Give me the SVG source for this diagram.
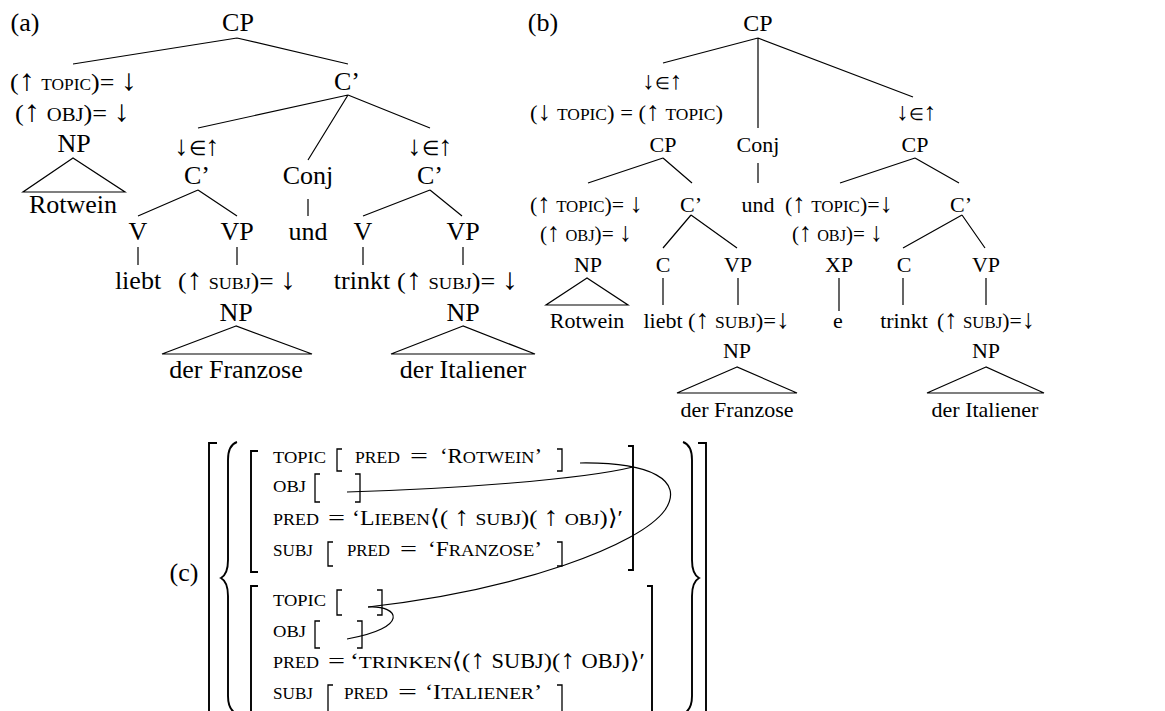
<svg xmlns="http://www.w3.org/2000/svg" width="1165" height="711" viewBox="0 0 1165 711">
<style>
text{font-family:"Liberation Serif","Times New Roman",serif;fill:#000}
.a{font-size:26px;text-anchor:middle}
.b{font-size:22px;text-anchor:middle}
.s{font-size:24px}
.bs{font-size:22px}
.m{font-size:22px}
.sc{font-size:17.5px}
.ar{font-size:30px}
.br{font-size:27px}
.ea{font-size:28px;text-anchor:middle}
.eb{font-size:25px;text-anchor:middle}
.el{font-size:20px}
.es{font-size:17px}
.e{stroke:#000;stroke-width:1.2;fill:none}
.k{stroke:#000;stroke-width:1.3;fill:none}
.K{stroke:#000;stroke-width:1.9;fill:none}
</style>
<rect width="1165" height="711" fill="#fff"/>

<g id="panel-a">
  <text class="a" x="25" y="31">(a)</text>
  <g id="a-CP"><text class="a" x="238" y="31">CP</text></g>
  <g id="a-spec"><text class="s" x="10" y="90" textLength="127" lengthAdjust="spacingAndGlyphs">(<tspan class="ar">↑</tspan> <tspan style="font-size:16px">TOPIC</tspan>)= <tspan class="ar">↓</tspan></text>
    <text class="s" x="15" y="121" textLength="115" lengthAdjust="spacingAndGlyphs">(<tspan class="ar">↑</tspan> <tspan style="font-size:19px">OBJ</tspan>)= <tspan class="ar">↓</tspan></text>
    <text class="a" x="74" y="152">NP</text></g>
  <g id="a-Rotwein"><text class="a" x="73" y="213">Rotwein</text></g>
  <g id="a-Cbar"><text class="a" x="347" y="90">C’</text></g>
  <g id="a-C1"><text class="ea" x="197" y="155">↓<tspan class="el">∈</tspan>↑</text><text class="a" x="197" y="184">C’</text></g>
  <g id="a-Conj"><text class="a" x="308" y="184">Conj</text></g>
  <g id="a-C2"><text class="ea" x="430" y="155">↓<tspan class="el">∈</tspan>↑</text><text class="a" x="430" y="184">C’</text></g>
  <g id="a-V1"><text class="a" x="138" y="240">V</text></g>
  <g id="a-VP1"><text class="a" x="237" y="240">VP</text></g>
  <g id="a-und"><text class="a" x="308" y="240">und</text></g>
  <g id="a-V2"><text class="a" x="363" y="240">V</text></g>
  <g id="a-VP2"><text class="a" x="463" y="240">VP</text></g>
  <g id="a-liebt"><text class="a" x="138" y="289">liebt</text></g>
  <g id="a-NP1"><text class="s" x="178" y="289" textLength="118" lengthAdjust="spacingAndGlyphs">(<tspan class="ar">↑</tspan> <tspan style="font-size:17px">SUBJ</tspan>)= <tspan class="ar">↓</tspan></text><text class="a" x="236" y="321">NP</text></g>
  <g id="a-Franzose"><text class="a" x="236" y="378">der Franzose</text></g>
  <g id="a-trinkt"><text class="a" x="362" y="289">trinkt</text></g>
  <g id="a-NP2"><text class="s" x="397" y="289" textLength="121" lengthAdjust="spacingAndGlyphs">(<tspan class="ar">↑</tspan> <tspan style="font-size:17px">SUBJ</tspan>)= <tspan class="ar">↓</tspan></text><text class="a" x="463" y="321">NP</text></g>
  <g id="a-Italiener"><text class="a" x="463" y="378">der Italiener</text></g>
</g>

<g id="panel-b">
  <text class="a" x="543" y="31">(b)</text>
  <g id="b-CP"><text class="b" x="758" y="31" style="font-size:24px">CP</text></g>
  <g id="b-CP1"><text class="eb" x="662" y="89">↓<tspan class="es">∈</tspan>↑</text>
    <text class="bs" x="530" y="120" textLength="193" lengthAdjust="spacingAndGlyphs">(<tspan class="br">↓</tspan> <tspan style="font-size:17px">TOPIC</tspan>) = (<tspan class="br">↑</tspan> <tspan style="font-size:17px">TOPIC</tspan>)</text>
    <text class="b" x="663" y="152">CP</text></g>
  <g id="b-Conj"><text class="b" x="758" y="152">Conj</text></g>
  <g id="b-CP2"><text class="eb" x="916" y="120">↓<tspan class="es">∈</tspan>↑</text><text class="b" x="915" y="152">CP</text></g>
  <g id="b-NP1"><text class="bs" x="530" y="212" textLength="113" lengthAdjust="spacingAndGlyphs">(<tspan class="br">↑</tspan> <tspan style="font-size:17px">TOPIC</tspan>)= <tspan class="br">↓</tspan></text>
    <text class="bs" x="540" y="241" textLength="92" lengthAdjust="spacingAndGlyphs">(<tspan class="br">↑</tspan> <tspan style="font-size:17px">OBJ</tspan>)= <tspan class="br">↓</tspan></text>
    <text class="b" x="588" y="272">NP</text></g>
  <g id="b-Rotwein"><text class="b" x="587" y="328">Rotwein</text></g>
  <g id="b-Cbar1"><text class="b" x="691" y="212">C’</text></g>
  <g id="b-und"><text class="b" x="758" y="212">und</text></g>
  <g id="b-XP"><text class="bs" x="785" y="212" textLength="108" lengthAdjust="spacingAndGlyphs">(<tspan class="br">↑</tspan> <tspan style="font-size:17px">TOPIC</tspan>)=<tspan class="br">↓</tspan></text>
    <text class="bs" x="792" y="241" textLength="91" lengthAdjust="spacingAndGlyphs">(<tspan class="br">↑</tspan> <tspan style="font-size:17px">OBJ</tspan>)= <tspan class="br">↓</tspan></text>
    <text class="b" x="839" y="272">XP</text></g>
  <g id="b-e"><text class="b" x="838" y="328">e</text></g>
  <g id="b-Cbar2"><text class="b" x="961" y="212">C’</text></g>
  <g id="b-C1"><text class="b" x="663" y="272">C</text></g>
  <g id="b-VP1"><text class="b" x="738" y="272">VP</text></g>
  <g id="b-liebt"><text class="b" x="663" y="328">liebt</text></g>
  <g id="b-NP2"><text class="bs" x="688" y="328" textLength="102" lengthAdjust="spacingAndGlyphs">(<tspan class="br">↑</tspan> <tspan style="font-size:17px">SUBJ</tspan>)=<tspan class="br">↓</tspan></text><text class="b" x="737" y="358">NP</text></g>
  <g id="b-Franzose"><text class="b" x="737" y="417">der Franzose</text></g>
  <g id="b-C2"><text class="b" x="904" y="272">C</text></g>
  <g id="b-VP2"><text class="b" x="986" y="272">VP</text></g>
  <g id="b-trinkt"><text class="b" x="904" y="328">trinkt</text></g>
  <g id="b-NP3"><text class="bs" x="937" y="328" textLength="98" lengthAdjust="spacingAndGlyphs">(<tspan class="br">↑</tspan> <tspan style="font-size:17px">SUBJ</tspan>)=<tspan class="br">↓</tspan></text><text class="b" x="986" y="358">NP</text></g>
  <g id="b-Italiener"><text class="b" x="985" y="417">der Italiener</text></g>
</g>

<g id="connectors">
  <path class="e" d="M237,38 L73,64 M237,38 L348,64"/>
  <path class="e" d="M348,95 L198,128 M348,95 L308,160 M348,95 L430,128"/>
  <path class="e" d="M73,158 L23,192 L125,192 Z"/>
  <path class="e" d="M198,190 L138,216 M198,190 L237,216 M308,199 L308,216 M430,190 L363,216 M430,190 L462,216"/>
  <path class="e" d="M138,247 V265 M237,247 V265 M363,247 V265 M463,247 V265"/>
  <path class="e" d="M236,326 L162,354 L312,354 Z M463,326 L391,354 L535,354 Z"/>
  <path class="e" d="M758,38 L663,63 M758,38 L758,128 M758,38 L913,97"/>
  <path class="e" d="M663,158 L588,183 M663,158 L692,183 M758,163 L758,183 M915,158 L840,183 M915,158 L959,183"/>
  <path class="e" d="M691,215 L663,248 M691,215 L737,248 M962,215 L903,248 M962,215 L985,248"/>
  <path class="e" d="M587,278 L546,305 L628,305 Z"/>
  <path class="e" d="M663,278 V305 M738,278 V305 M839,278 V311 M903,278 V305 M986,278 V305"/>
  <path class="e" d="M737,367 L677,393 L797,393 Z M986,367 L927,393 L1044,393 Z"/>
</g>

<g id="panel-c">
  <text class="a" x="184" y="581">(c)</text>
  <g id="c-delims">
    <path class="K" d="M217,443 H209 V715 M698,443 H706 V715"/>
    <path class="K" d="M237,442 Q228,445 228,460 L228,560 Q228,574 221,578 Q228,582 228,596 L228,696 Q228,710 237,714"/>
    <path class="K" d="M683,442 Q692,445 692,460 L692,560 Q692,574 699,578 Q692,582 692,596 L692,696 Q692,710 683,714"/>
  </g>
  <g id="c-fs1">
    <path class="K" d="M258,451 H251 V572 H258 M628,446 H633 V570 H628"/>
    <text class="sc" x="273" y="463" textLength="53" lengthAdjust="spacingAndGlyphs">TOPIC</text>
    <path class="k" d="M342,449 H337 V471 H342 M557,449 H562 V471 H557"/>
    <text class="sc" x="355" y="463" textLength="45" lengthAdjust="spacingAndGlyphs">PRED</text>
    <text class="m" x="410" y="463" textLength="18" lengthAdjust="spacingAndGlyphs">=</text>
    <text class="m" x="440" y="463" textLength="102" lengthAdjust="spacingAndGlyphs">‘R<tspan class="sc">OTWEIN</tspan>’</text>
    <text class="sc" x="273" y="492" textLength="33" lengthAdjust="spacingAndGlyphs">OBJ</text>
    <path class="k" d="M320,474 H315 V502 H320 M355,474 H360 V502 H355"/>
    <text class="sc" x="273" y="525" textLength="46" lengthAdjust="spacingAndGlyphs">PRED</text>
    <text class="m" x="328" y="525" textLength="17" lengthAdjust="spacingAndGlyphs">=</text>
    <text class="m" x="352" y="525" textLength="78" lengthAdjust="spacingAndGlyphs">‘L<tspan class="sc">IEBEN</tspan></text>
    <text class="m" x="430" y="525" textLength="193" lengthAdjust="spacingAndGlyphs">⟨( <tspan class="br">↑</tspan> <tspan class="sc">SUBJ</tspan>)( <tspan class="br">↑</tspan> <tspan class="sc">OBJ</tspan>)⟩′</text>
    <text class="sc" x="273" y="556" textLength="40" lengthAdjust="spacingAndGlyphs">SUBJ</text>
    <path class="k" d="M333,542 H328 V566 H333 M557,542 H562 V566 H557"/>
    <text class="sc" x="347" y="556" textLength="43" lengthAdjust="spacingAndGlyphs">PRED</text>
    <text class="m" x="400" y="556" textLength="17" lengthAdjust="spacingAndGlyphs">=</text>
    <text class="m" x="428" y="556" textLength="114" lengthAdjust="spacingAndGlyphs">‘F<tspan class="sc">RANZOSE</tspan>’</text>
  </g>
  <g id="c-fs2">
    <path class="K" d="M258,586 H251 V715 M647,586 H652 V715"/>
    <text class="sc" x="273" y="606" textLength="53" lengthAdjust="spacingAndGlyphs">TOPIC</text>
    <path class="k" d="M342,590 H337 V615 H342 M377,590 H382 V615 H377"/>
    <text class="sc" x="273" y="637" textLength="33" lengthAdjust="spacingAndGlyphs">OBJ</text>
    <path class="k" d="M320,621 H315 V648 H320 M357,621 H362 V648 H357"/>
    <text class="sc" x="273" y="668" textLength="46" lengthAdjust="spacingAndGlyphs">PRED</text>
    <text class="m" x="328" y="668" textLength="17" lengthAdjust="spacingAndGlyphs">=</text>
    <text class="m" x="350" y="668" textLength="102" lengthAdjust="spacingAndGlyphs">‘<tspan class="sc">TRINKEN</tspan></text>
    <text class="m" x="452" y="668" textLength="193" lengthAdjust="spacingAndGlyphs">⟨(<tspan class="br">↑</tspan> <tspan style="font-size:20px">SUBJ</tspan>)(<tspan class="br">↑</tspan> <tspan style="font-size:20px">OBJ</tspan>)⟩′</text>
    <text class="sc" x="273" y="699" textLength="40" lengthAdjust="spacingAndGlyphs">SUBJ</text>
    <path class="k" d="M333,685 H328 V715 M557,685 H562 V715"/>
    <text class="sc" x="344" y="699" textLength="44" lengthAdjust="spacingAndGlyphs">PRED</text>
    <text class="m" x="398" y="699" textLength="19" lengthAdjust="spacingAndGlyphs">=</text>
    <text class="m" x="425" y="699" textLength="117" lengthAdjust="spacingAndGlyphs">‘I<tspan class="sc">TALIENER</tspan>’</text>
  </g>
  <g id="c-links">
    <path class="e" d="M580,463 C650,462 685,480 665,510 C640,545 520,590 368,607"/>
    <path class="e" d="M347,492 C450,489 580,480 633,467"/>
    <path class="e" d="M368,607 C400,605 410,628 347,639"/>
  </g>
</g>
</svg>
